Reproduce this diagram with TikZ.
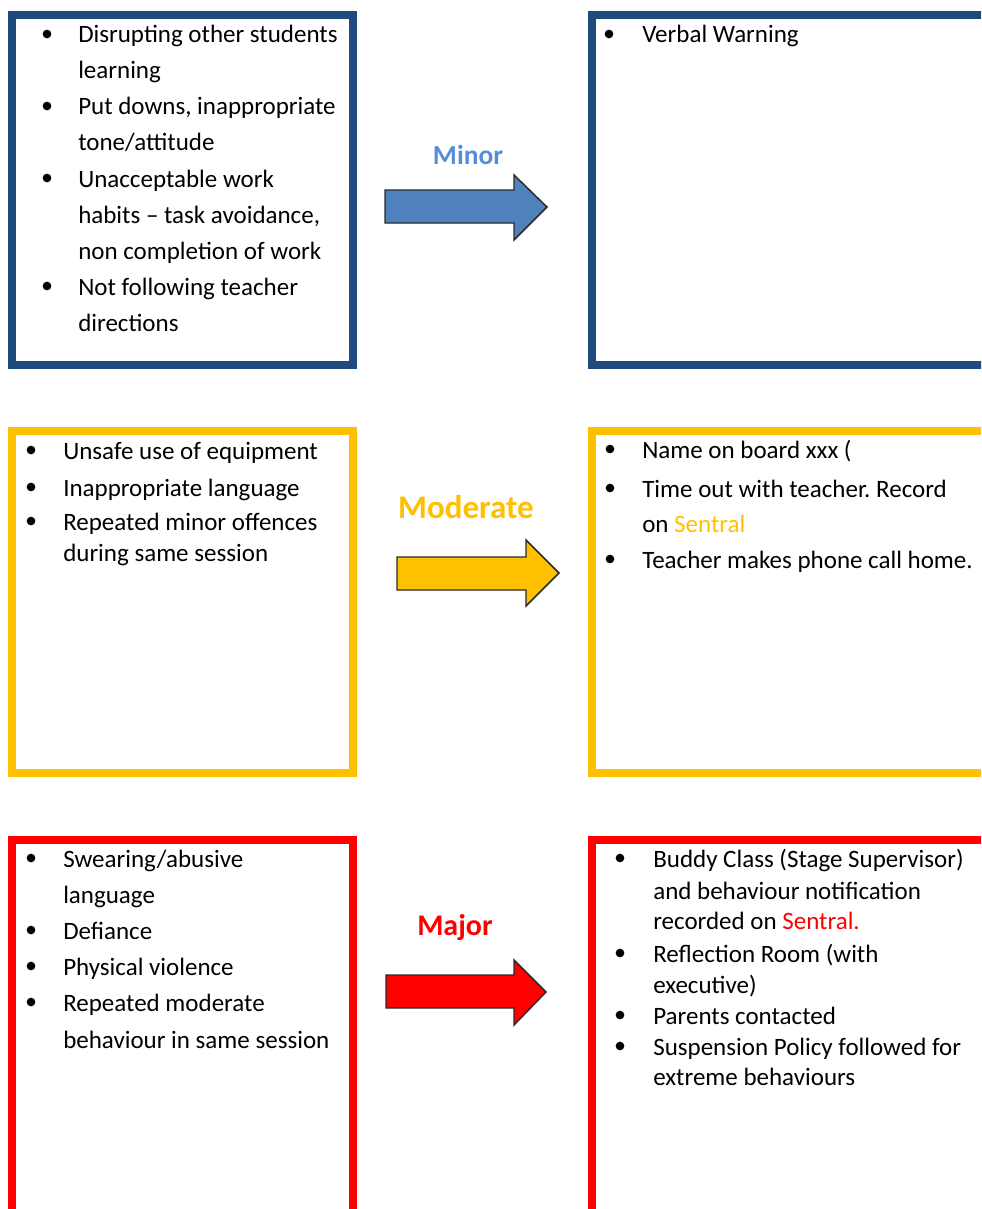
\documentclass[tikz,border=0pt]{standalone}
\usepackage{fontspec}
\setmainfont{Carlito}
\frenchspacing
\usetikzlibrary{fit}
\definecolor{frameblue}{HTML}{1F4A7E}
\definecolor{arrowblue}{HTML}{4F81BD}
\definecolor{minorblue}{HTML}{558ED5}
\definecolor{amber}{HTML}{FFC000}
\definecolor{pure red}{HTML}{FF0000}
\definecolor{outline}{HTML}{2A2A2A}
\tikzset{
  frame/.style={draw, line width=6pt, inner sep=0pt},
  txt/.style={anchor=base west, inner sep=0pt, font=\fontsize{18.75}{22}\selectfont, text=black},
  dot/.style={circle, fill=black, inner sep=0pt, minimum size=6.5pt},
  lbl/.style={anchor=base, inner sep=0pt, font=\bfseries},
  blockarrow/.style={draw=outline, line width=1.1pt, line join=miter}
}
\begin{document}
\begin{tikzpicture}[x=0.75pt,y=-0.75pt]
\useasboundingbox (0,0) rectangle (981,1209);
\clip (0,0) rectangle (981,1209);

% ---------- frames ----------
\node[frame, draw=frameblue, fit={(12,15) (353,365)}] (boxA) {};
\node[frame, draw=frameblue, fit={(592,15) (995,365)}] (boxB) {};
\node[frame, draw=amber, fit={(12,431) (353,773)}] (boxC) {};
\node[frame, draw=amber, fit={(592,431) (995,773)}] (boxD) {};
\node[frame, draw=pure red, fit={(12,840) (353,1230)}] (boxE) {};
\node[frame, draw=pure red, fit={(592,840) (995,1230)}] (boxF) {};

% ---------- arrows ----------
\draw[blockarrow, fill=arrowblue] (385,190) -- (514,190) -- (514,175) -- (547,207) -- (514,240) -- (514,223) -- (385,223) -- cycle;
\draw[blockarrow, fill=amber] (397,557) -- (526,557) -- (526,540) -- (559,573) -- (526,606) -- (526,590) -- (397,590) -- cycle;
\draw[blockarrow, fill=pure red] (386,975) -- (514,975) -- (514,960) -- (546,992) -- (514,1025) -- (514,1008) -- (386,1008) -- cycle;

\node[lbl, text=minorblue, font=\bfseries\fontsize{20.6}{24}\selectfont] (lminor) at (468,165) {Minor};
\node[lbl, text=amber, font=\bfseries\fontsize{24.75}{28}\selectfont] (lmod) at (466,518) {Moderate};
\node[lbl, text=pure red, font=\bfseries\fontsize{22.5}{26}\selectfont] (lmaj) at (455,935) {Major};

% ---------- box A ----------
\node[dot] (a1b) at (47,34) {};
\node[txt] (a1) at (78,43) {Disrupting other students};
\node[txt] (a1x) at (78,79) {learning};
\node[dot] (a2b) at (47,106) {};
\node[txt] (a2) at (78,115) {Put downs, inappropriate};
\node[txt] (a2x) at (78,151) {tone/attitude};
\node[dot] (a3b) at (47,178) {};
\node[txt] (a3) at (78,187) {Unacceptable work};
\node[txt] (a3x) at (78,223) {habits – task avoidance,};
\node[txt] (a3y) at (78,259) {non completion of work};
\node[dot] (a4b) at (47,286) {};
\node[txt] (a4) at (78,295) {Not following teacher};
\node[txt] (a4x) at (78,331) {directions};

% ---------- box B ----------
\node[dot] (b1b) at (609,34) {};
\node[txt] (b1) at (642,43) {Verbal Warning};

% ---------- box C ----------
\node[dot] (c1b) at (31,450) {};
\node[txt] (c1) at (63,459) {Unsafe use of equipment};
\node[dot] (c2b) at (31,487) {};
\node[txt] (c2) at (63,496) {Inappropriate language};
\node[dot] (c3b) at (31,521) {};
\node[txt] (c3) at (63,530) {Repeated minor offences};
\node[txt] (c3x) at (63,561) {during same session};

% ---------- box D ----------
\node[dot] (d1b) at (610,449) {};
\node[txt] (d1) at (642,458) {Name on board xxx (};
\node[dot] (d2b) at (610,488) {};
\node[txt] (d2) at (642,497) {Time out with teacher. Record};
\node[txt] (d2x) at (642,532) {on \textcolor{amber}{Sentral}};
\node[dot] (d3b) at (610,559) {};
\node[txt] (d3) at (642,568) {Teacher makes phone call home.};

% ---------- box E ----------
\node[dot] (e1b) at (31,858) {};
\node[txt] (e1) at (63,867) {Swearing/abusive};
\node[txt] (e1x) at (63,903) {language};
\node[dot] (e2b) at (31,930) {};
\node[txt] (e2) at (63,939) {Defiance};
\node[dot] (e3b) at (31,966) {};
\node[txt] (e3) at (63,975) {Physical violence};
\node[dot] (e4b) at (31,1002) {};
\node[txt] (e4) at (63,1011) {Repeated moderate};
\node[txt] (e4x) at (63,1048) {behaviour in same session};

% ---------- box F ----------
\node[dot] (f1b) at (620,858) {};
\node[txt] (f1) at (653,867) {Buddy Class (Stage Supervisor)};
\node[txt] (f1x) at (653,899) {and behaviour notification};
\node[txt] (f1y) at (653,929) {recorded on \textcolor{pure red}{Sentral.}};
\node[dot] (f2b) at (620,953) {};
\node[txt] (f2) at (653,962) {Reflection Room (with};
\node[txt] (f2x) at (653,993) {executive)};
\node[dot] (f3b) at (620,1015) {};
\node[txt] (f3) at (653,1024) {Parents contacted};
\node[dot] (f4b) at (620,1046) {};
\node[txt] (f4) at (653,1055) {Suspension Policy followed for};
\node[txt] (f4x) at (653,1085) {extreme behaviours};
\end{tikzpicture}
\end{document}
